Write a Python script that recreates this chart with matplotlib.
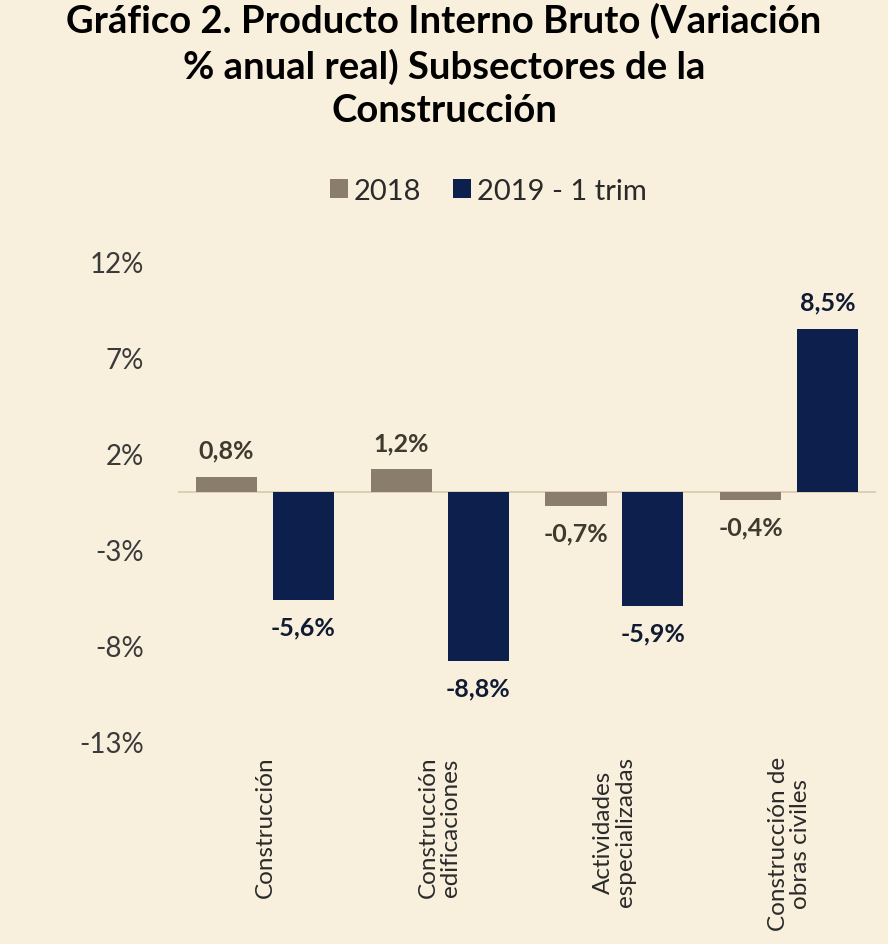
import matplotlib.pyplot as plt
import numpy as np

plt.rcParams["font.family"] = ["Lato", "DejaVu Sans"]

categories = [
    "Construcción",
    "Construcción\nedificaciones",
    "Actividades\nespecializadas",
    "Construcción de\nobras civiles",
]
values_2018 = [0.8, 1.2, -0.7, -0.4]
values_2019 = [-5.6, -8.8, -5.9, 8.5]
series_names = ["2018", "2019 - 1 trim"]
y_ticks = [-13, -8, -3, 2, 7, 12]

bg = "#f8f0dc"
c2018 = "#8b7d6b"
c2019 = "#0c1f4d"

fig = plt.figure(figsize=(8.88, 9.45), dpi=100, facecolor=bg)
ax = fig.add_axes([0.2, 0.2138, 0.787, 0.5079])
ax.set_facecolor(bg)

x = np.arange(len(categories))
w = 0.35
off = 0.22

b1 = ax.bar(x - off, values_2018, w, color=c2018, label=series_names[0])
b2 = ax.bar(x + off, values_2019, w, color=c2019, label=series_names[1])

ax.axhline(0, color="#d8c9ab", lw=1.2, zorder=0)

def fmt(v):
    return f"{v:.1f}%".replace(".", ",")

for bars, vals, col in [(b1, values_2018, "#3f3a30"), (b2, values_2019, "#111a33")]:
    for rect, v in zip(bars, vals):
        cx = rect.get_x() + rect.get_width() / 2
        if v >= 0:
            ax.annotate(fmt(v), (cx, v), xytext=(0, 11), textcoords="offset points",
                        ha="center", va="bottom", fontsize=18, fontweight="bold", color=col)
        else:
            ax.annotate(fmt(v), (cx, v), xytext=(0, -11), textcoords="offset points",
                        ha="center", va="top", fontsize=18, fontweight="bold", color=col)

ax.set_xlim(-0.5, len(categories) - 0.5)
ax.set_ylim(-13, 12)
ax.set_yticks(y_ticks)
ax.set_yticklabels([f"{t}%" for t in y_ticks], fontsize=20, color="#3a3a3a")
ax.tick_params(axis="y", length=0, pad=24)

ax.set_xticks(x)
ax.set_xticklabels(categories, rotation=90, fontsize=17.5, color="#2a2a2a",
                   va="top", ha="center", multialignment="center", linespacing=1.05)
ax.tick_params(axis="x", length=0, pad=10)

for s in ax.spines.values():
    s.set_visible(False)

fig.suptitle("Gráfico 2. Producto Interno Bruto (Variación\n% anual real) Subsectores de la\nConstrucción",
             x=0.5, y=0.997, fontsize=27.5, fontweight="bold", color="#000000", linespacing=1.32)

leg = fig.legend(handles=[b1, b2], loc="center", bbox_to_anchor=(0.55, 0.797), ncol=2,
                 frameon=False, fontsize=21, handlelength=0.6, handleheight=0.6,
                 handletextpad=0.2, columnspacing=1.1)
for t in leg.get_texts():
    t.set_color("#2a2a2a")

fig.savefig("out.png", dpi=100, facecolor=bg)
